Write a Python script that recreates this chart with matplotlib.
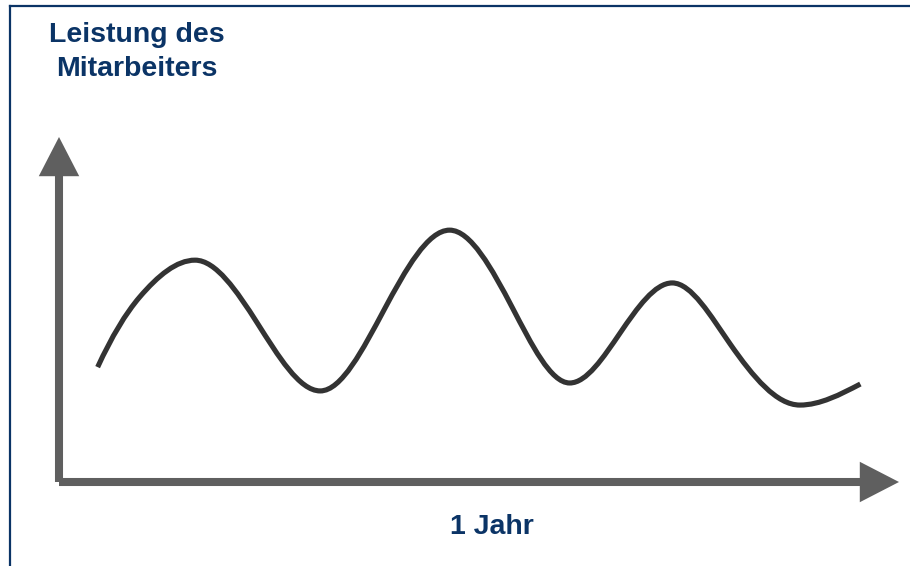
import matplotlib
matplotlib.use('Agg')
import matplotlib.pyplot as plt
from matplotlib.lines import Line2D
from matplotlib.patches import FancyArrowPatch, PathPatch
from matplotlib.path import Path

# Zeit (0 = Beginn, 100 = Ende des Jahres) und Leistung (0..100):
# Hoch-/Tiefpunkte und Wendestellen der Kurve
zeit = [4.6, 9.6, 16.2, 23.6, 31.1, 38.7, 46.5, 54.0, 60.8, 66.8, 73.0,
        79.9, 88.2, 95.4]
leistung = [33.3, 53.6, 64.3, 46.1, 26.4, 49.9, 73.0, 50.4, 28.7, 43.2,
            57.7, 40.0, 22.3, 28.4]

y_titel = 'Leistung des\nMitarbeiters'
x_titel = '1 Jahr'

navy = '#0b3466'
grau = '#5f5f5f'

plt.rcParams['font.family'] = ['Liberation Sans', 'DejaVu Sans']


def glatter_pfad(xs, ys):
    # kubische Hermite-Kurve: waagrecht in Extrema, weich in Wendestellen
    n = len(xs)
    h = [xs[i + 1] - xs[i] for i in range(n - 1)]
    d = [(ys[i + 1] - ys[i]) / h[i] for i in range(n - 1)]
    extrem = [False] + [d[k - 1] * d[k] <= 0 for k in range(1, n - 1)] + [False]
    m = [0.0] * n
    for k in range(1, n - 1):
        if extrem[k]:
            continue
        if extrem[k - 1] and extrem[k + 1]:
            m[k] = 1.5 * (ys[k + 1] - ys[k - 1]) / (xs[k + 1] - xs[k - 1])
        else:
            m[k] = (d[k - 1] + d[k]) / 2
    m[0] = 2 * d[0] - m[1]
    m[-1] = 1.5 * d[-1] if extrem[-2] else d[-1]
    verts = [(xs[0], ys[0])]
    codes = [Path.MOVETO]
    for i in range(n - 1):
        verts += [(xs[i] + h[i] / 3, ys[i] + m[i] * h[i] / 3),
                  (xs[i + 1] - h[i] / 3, ys[i + 1] - m[i + 1] * h[i] / 3),
                  (xs[i + 1], ys[i + 1])]
        codes += [Path.CURVE4] * 3
    return Path(verts, codes)


fig = plt.figure(figsize=(9.1, 5.66), dpi=100)
ax = fig.add_axes([59 / 910, 84 / 566, 840 / 910, 345 / 566])
ax.set_xlim(0, 100)
ax.set_ylim(0, 100)
ax.axis('off')

# Rahmen links und oben
fig.add_artist(Line2D([9.5 / 910, 9.5 / 910], [0, 1 - 5.5 / 566],
                      color=navy, lw=1.6, transform=fig.transFigure))
fig.add_artist(Line2D([9.5 / 910, 1], [1 - 5.5 / 566, 1 - 5.5 / 566],
                      color=navy, lw=1.6, transform=fig.transFigure))

# Achsen als Pfeile
for ende in [(100, 0), (0, 100)]:
    pfeil = FancyArrowPatch((0, 0), ende,
                            arrowstyle='-|>,head_length=19,head_width=9.8',
                            mutation_scale=1, lw=5.8, color=grau,
                            shrinkA=0, shrinkB=0, joinstyle='miter',
                            capstyle='butt', clip_on=False)
    ax.add_patch(pfeil)

kurve = PathPatch(glatter_pfad(zeit, leistung), facecolor='none',
                  edgecolor='#333333', lw=3.7, capstyle='butt',
                  clip_on=False)
ax.add_patch(kurve)

fig.text(137 / 910, 1 - 22 / 566, y_titel, ha='center', va='top',
         fontsize=20.5, fontweight='bold', color=navy, linespacing=1.42)
fig.text(492 / 910, 1 - 534 / 566, x_titel, ha='center', va='baseline',
         fontsize=20.5, fontweight='bold', color=navy)

fig.savefig('out.png', dpi=100)
